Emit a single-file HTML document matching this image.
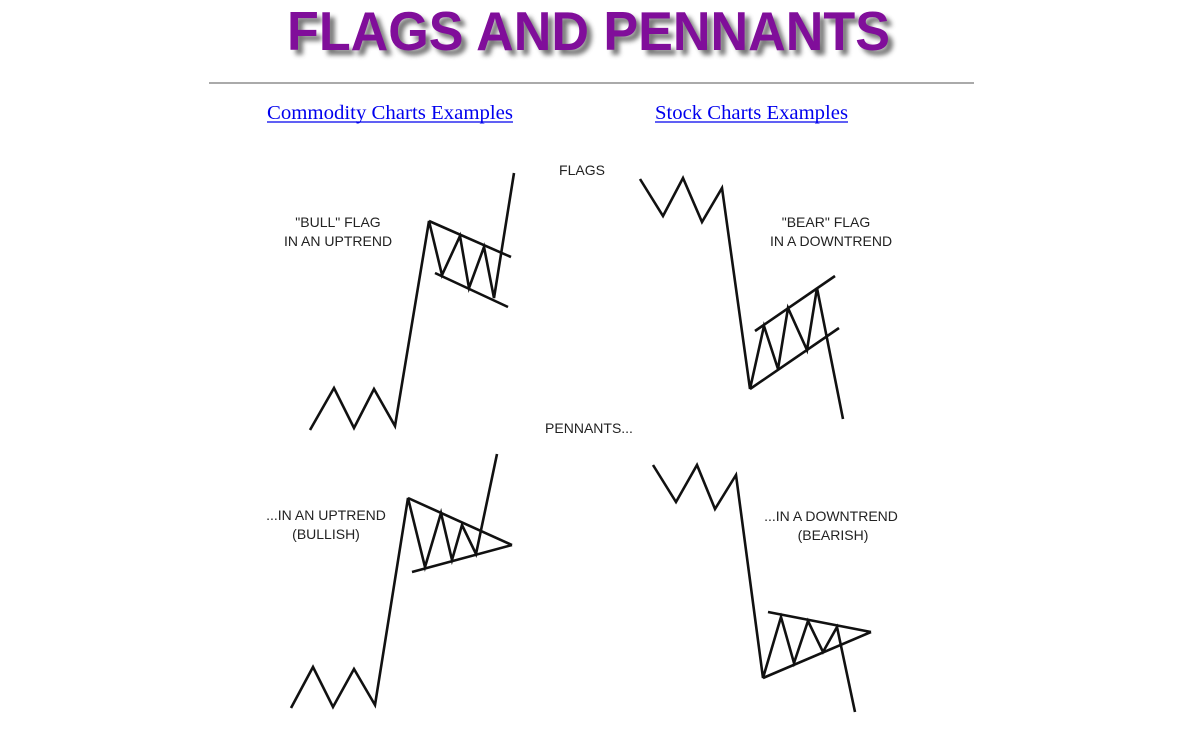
<!DOCTYPE html>
<html><head><meta charset="utf-8"><style>
html,body{margin:0;padding:0;background:#fff;width:1200px;height:744px;overflow:hidden}
svg{display:block}
</style></head><body>
<svg width="1200" height="744" viewBox="0 0 1200 744" xmlns="http://www.w3.org/2000/svg">
<defs><filter id="sh" x="-5%" y="-20%" width="115%" height="160%"><feGaussianBlur stdDeviation="2.5"/></filter></defs>
<g font-family="Liberation Sans, Arial, sans-serif" font-weight="bold" font-size="55">
<text x="292" y="55" textLength="603" lengthAdjust="spacingAndGlyphs" fill="#555" filter="url(#sh)" opacity="0.8">FLAGS AND PENNANTS</text>
<text x="287" y="50" textLength="603" lengthAdjust="spacingAndGlyphs" fill="#800e9a">FLAGS AND PENNANTS</text>
</g>
<line x1="209" y1="83" x2="974" y2="83" stroke="#aaa" stroke-width="2"/>
<g font-family="Liberation Serif, serif" font-size="20" fill="#0000ee">
<text x="267" y="119" textLength="246" lengthAdjust="spacingAndGlyphs">Commodity Charts Examples</text>
<line x1="267" y1="122" x2="513" y2="122" stroke="#0000ee" stroke-width="1.3"/>
<text x="655" y="119" textLength="193" lengthAdjust="spacingAndGlyphs">Stock Charts Examples</text>
<line x1="655" y1="122" x2="848" y2="122" stroke="#0000ee" stroke-width="1.3"/>
</g>
<g font-family="Liberation Sans, Arial, sans-serif" font-size="14" fill="#222" text-anchor="middle">
<text x="582" y="175">FLAGS</text>
<text x="338" y="227">"BULL" FLAG</text>
<text x="338" y="246">IN AN UPTREND</text>
<text x="826" y="227">"BEAR" FLAG</text>
<text x="831" y="246">IN A DOWNTREND</text>
<text x="589" y="433">PENNANTS...</text>
<text x="326" y="520">...IN AN UPTREND</text>
<text x="326" y="539">(BULLISH)</text>
<text x="831" y="521">...IN A DOWNTREND</text>
<text x="833" y="540">(BEARISH)</text>
</g>
<g fill="none" stroke="#111" stroke-width="2.6" stroke-linejoin="miter">
<polyline points="310,430 334,388 354,428 374,389 395,426 429,221 442,275 460,236 469,288 484,247 494,298 514,173"/>
<line x1="429" y1="221" x2="511" y2="257"/>
<line x1="435" y1="273" x2="508" y2="307"/>
<polyline points="640,179 663,216 683,178 702,222 722,188 750,389 764,326 778,369 788,308 807,350 817,288 843,419"/>
<line x1="755" y1="331" x2="835" y2="276"/>
<line x1="750" y1="389" x2="839" y2="328"/>
<polyline points="291,708 313,667 333,707 354,669 375,705 408,498 425,567 441,513 452,560 462,525 476,554 497,454"/>
<line x1="408" y1="498" x2="512" y2="545"/>
<line x1="412" y1="572" x2="512" y2="545"/>
<polyline points="653,465 676,502 697,465 715,509 736,475 763,678 781,617 794,663 808,621 823,652 837,627 855,712"/>
<line x1="768" y1="612" x2="871" y2="632"/>
<line x1="763" y1="678" x2="871" y2="632"/>
</g>
</svg>
</body></html>
